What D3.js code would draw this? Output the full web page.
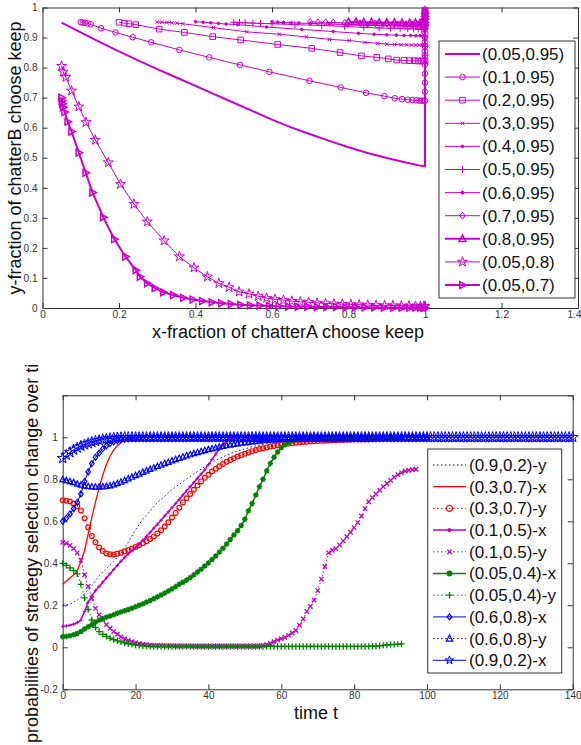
<!DOCTYPE html>
<html>
<head>
<meta charset="utf-8">
<script src="https://cdn.jsdelivr.net/npm/d3@7"></script>
<style>
  body { margin: 0; background: #fff; }
  svg text { font-family: "Liberation Sans", Arial, sans-serif; }
</style>
</head>
<body>
<svg id="fig" width="581" height="745"></svg>
<script>
// ---------- top panel: trajectories in the (x, y) plane ----------
const topXTicks = [0, 0.2, 0.4, 0.6, 0.8, 1, 1.2, 1.4]
const topYTicks = [0, 0.1, 0.2, 0.3, 0.4, 0.5, 0.6, 0.7, 0.8, 0.9, 1]

const traj005_095 = [[.05,.95],[.1,.917],[.15,.885],[.2,.854],[.25,.824],[.3,.795],[.35,.767],[.4,.739],[.45,.711],[.5,.683],[.55,.655],[.6,.627],[.65,.601],[.7,.578],[.75,.556],[.8,.535],[.85,.516],[.9,.499],[.95,.484],[.99,.473],[1,.472],[1,.5],[1,.6],[1,.7],[1,.8],[1,.9],[1,.97],[1,.99]]
const traj01_095 = [[.1,.951],[.105,.95],[.111,.949],[.118,.947],[.126,.944],[.153,.931],[.191,.917],[.236,.901],[.284,.884],[.358,.859],[.436,.834],[.516,.809],[.593,.786],[.698,.756],[.78,.734],[.846,.716],[.894,.705],[.921,.698],[.94,.695],[.955,.693],[.967,.692],[.977,.691],[.985,.69],[.991,.69],[.996,.69],[1,.69],[1,.72],[1,.75],[1,.78],[1,.81],[1,.84],[1,.87],[1,.9],[1,.93],[1,.96],[1,.98],[1,.99]]
const traj02_095 = [[.2,.951],[.214,.948],[.226,.946],[.244,.943],[.305,.928],[.371,.917],[.445,.903],[.518,.892],[.615,.877],[.704,.864],[.778,.85],[.834,.839],[.874,.834],[.904,.829],[.926,.825],[.945,.824],[.96,.823],[.972,.823],[.982,.822],[.99,.822],[.996,.822],[1,.822],[1,.85],[1,.88],[1,.91],[1,.94],[1,.97],[1,.99]]
const traj03_095 = [[.3,.952],[.312,.951],[.325,.95],[.338,.949],[.352,.948],[.367,.946],[.447,.933],[.534,.919],[.619,.911],[.69,.902],[.75,.894],[.802,.89],[.843,.884],[.876,.881],[.9,.878],[.92,.877],[.937,.876],[.952,.876],[.965,.875],[.976,.875],[.985,.875],[.992,.875],[.997,.875],[1,.875],[1,.9],[1,.93],[1,.96],[1,.99]]
const traj04_095 = [[.4,.953],[.42,.951],[.44,.949],[.46,.947],[.48,.945],[.51,.943],[.586,.935],[.678,.927],[.76,.92],[.826,.914],[.867,.911],[.9,.909],[.925,.908],[.945,.907],[.962,.907],[.976,.906],[.987,.906],[.995,.906],[1,.906],[1,.93],[1,.96],[1,.99]]
const traj05_095 = [[.5,.951],[.515,.95],[.53,.949],[.55,.948],[.57,.947],[.6,.946],[.66,.943],[.73,.94],[.79,.937],[.84,.934],[.88,.932],[.91,.931],[.935,.93],[.955,.929],[.97,.929],[.982,.928],[.991,.928],[.997,.928],[1,.928],[1,.95],[1,.97],[1,.99]]
const traj06_095 = [[.6,.952],[.615,.951],[.63,.95],[.65,.949],[.67,.948],[.7,.947],[.75,.945],[.8,.943],[.85,.941],[.89,.94],[.92,.939],[.945,.938],[.963,.938],[.977,.937],[.988,.937],[.995,.937],[1,.937],[1,.96],[1,.98],[1,.99]]
const traj07_095 = [[.7,.952],[.72,.951],[.74,.951],[.76,.95],[.79,.949],[.83,.948],[.87,.947],[.9,.946],[.93,.945],[.95,.945],[.967,.944],[.98,.944],[.99,.944],[.997,.944],[1,.944],[1,.96],[1,.98],[1,.99]]
const traj08_095 = [[.8,.952],[.82,.952],[.84,.951],[.86,.951],[.88,.95],[.9,.95],[.92,.95],[.94,.949],[.96,.949],[.975,.949],[.987,.949],[.995,.949],[1,.949],[1,.96],[1,.97],[1,.98],[1,.99]]
const traj005_08 = [[.05,.805],[.054,.786],[.061,.768],[.076,.723],[.095,.67],[.114,.618],[.138,.559],[.172,.484],[.204,.412],[.239,.346],[.274,.287],[.318,.224],[.358,.171],[.396,.134],[.431,.104],[.461,.082],[.488,.069],[.514,.054],[.54,.047],[.564,.039],[.586,.033],[.608,.029],[.63,.026],[.652,.023],[.674,.021],[.696,.019],[.718,.017],[.74,.015],[.762,.014],[.784,.013],[.806,.012],[.828,.011],[.85,.01],[.872,.009],[.894,.008],[.916,.008],[.938,.007],[.958,.007],[.975,.006],[.988,.006],[.997,.006],[1,.006]]
const traj005_07 = [[.05,.7],[.051,.69],[.052,.68],[.054,.668],[.058,.652],[.066,.62],[.076,.587],[.095,.517],[.113,.45],[.131,.384],[.159,.302],[.188,.229],[.217,.171],[.244,.126],[.255,.104],[.274,.082],[.294,.066],[.316,.052],[.342,.043],[.368,.034],[.393,.028],[.418,.023],[.443,.019],[.468,.016],[.493,.013],[.518,.011],[.543,.009],[.568,.008],[.593,.007],[.618,.006],[.643,.005],[.668,.004],[.693,.004],[.718,.003],[.743,.003],[.768,.003],[.793,.002],[.818,.002],[.843,.002],[.868,.002],[.893,.001],[.918,.001],[.94,.001],[.96,.001],[.976,.001],[.988,.001],[.996,.001],[1,.001]]

const topNames = ["(0.05,0.95)", "(0.1,0.95)", "(0.2,0.95)", "(0.3,0.95)", "(0.4,0.95)", "(0.5,0.95)",
  "(0.6,0.95)", "(0.7,0.95)", "(0.8,0.95)", "(0.05,0.8)", "(0.05,0.7)"]

// ---------- bottom panel: probabilities over time (one value per time step) ----------
const botXTicks = [0, 20, 40, 60, 80, 100, 120, 140]
const botYTicks = [-0.2, 0, 0.2, 0.4, 0.6, 0.8, 1, 1.2]
const botYTickLabels = ["-0.2", "0", "0.2", "0.4", "0.6", "0.8", "1", ""]
const timeStep = 1

// (0.9,0.2)-y has no markers, kept as [t, value]
const y09_02 = [[0,.2],[2,.205],[4,.225],[6,.255],[8,.295],[10,.34],[12,.375],[14,.41],[16,.45],[18,.5],[20,.56],[22,.61],[24,.65],[26,.69],[28,.72],[30,.75],[33,.79],[36,.825],[39,.86],[42,.89],[45,.915],[48,.935],[52,.955],[56,.97],[60,.98],[65,.988],[70,.993],[80,.997],[90,.999],[100,1],[120,1],[140,1]]
const x03_07 = [.3,.315,.33,.345,.365,.41,.46,.54,.62,.69,.76,.82,.87,.91,.94,.96,.975,.985,.99,.994,
  .996,.998,.999,1,1,1,1,1,1,1,1,1,1,1,1,1,1,1,1,1,1]
const y03_07 = [.7,.698,.694,.685,.672,.652,.615,.57,.53,.5,.475,.458,.447,.443,.442,.445,.45,.456,.463,.47,
  .478,.486,.495,.505,.516,.528,.542,.557,.575,.595,.618,.64,.665,.69,.71,.73,.75,.77,.79,.807,
  .822,.837,.85,.862,.873,.883,.892,.9,.908,.915,.922,.928,.934,.939,.944,.948,.952,.956,.959,.962,
  .965,.968,.97,.972,.974,.976,.978,.979,.98,.981,.982,.983,.984,.985,.986,.986,.987,.987,.988,.988,
  .989,.989,.99,.99,.99,.991]
const x01_05 = [.1,.102,.105,.11,.118,.13,.17,.215,.245,.27,.29,.31,.33,.35,.37,.39,.41,.428,.445,.46,
  .475,.49,.51,.528,.548,.567,.586,.605,.625,.645,.665,.685,.705,.725,.745,.765,.785,.805,.825,.845,
  .87,.895,.92,.945,.965,.98,.99,.995,.998,1,1,1,1,1,1,1,1,1,1,1,1]
const y01_05 = [.5,.495,.485,.47,.45,.415,.345,.29,.233,.185,.155,.13,.108,.09,.075,.062,.05,.04,.033,.027,
  .022,.018,.015,.012,.01,.009,.008,.008,.007,.007,.007,.006,.006,.006,.006,.006,.005,.005,.005,.005,
  .005,.005,.005,.005,.005,.005,.005,.005,.005,.005,.005,.005,.005,.005,.005,.008,.012,.018,.027,.034,
  .041,.048,.057,.068,.08,.105,.135,.17,.195,.225,.27,.325,.384,.45,.462,.47,.488,.507,.527,.548,
  .57,.594,.625,.66,.693,.713,.73,.748,.765,.78,.795,.81,.822,.832,.839,.843,.846,.848]
const x005_04 = [.05,.052,.055,.06,.066,.075,.087,.098,.108,.119,.13,.137,.143,.149,.155,.162,.168,.174,.18,.186,
  .193,.2,.207,.215,.223,.231,.24,.249,.258,.268,.278,.289,.3,.31,.32,.332,.345,.358,.372,.387,
  .402,.418,.435,.453,.472,.492,.513,.535,.555,.58,.61,.65,.685,.725,.765,.8,.84,.876,.905,.93,
  .95,.965,.975,.983,.988,.992,.995,.997,.998,.999,1,1,1,1,1,1,1,1,1,1,
  1,1,1,1,1,1,1,1,1,1,1,1,1,1]
const y005_04 = [.4,.39,.378,.365,.35,.3,.235,.18,.13,.095,.075,.062,.052,.044,.037,.031,.026,.021,.017,.014,
  .011,.009,.007,.006,.005,.004,.004,.004,.004,.004,.004,.004,.004,.004,.004,.004,.004,.004,.004,.004,
  .004,.004,.004,.004,.004,.004,.004,.004,.004,.004,.004,.004,.004,.004,.004,.004,.004,.004,.004,.004,
  .004,.004,.004,.004,.004,.004,.004,.004,.004,.004,.004,.004,.004,.004,.004,.004,.004,.004,.004,.004,
  .004,.004,.004,.004,.004,.005,.006,.007,.009,.011,.013,.014,.015,.016]
const x06_08 = [.6,.615,.635,.66,.69,.73,.79,.835,.875,.905,.925,.945,.96,.97,.978,.984,.988,.991,.994,.996,
  .997,.998,.998,.999,.999,.999,1,1,1,1,1,1,1,1,1,1,1,1,1,1,
  1,1,1,1,1,1,1,1,1,1,1,1,1,1,1,1,1,1,1,1,1,1,1,1,1,1,1,1,1,1,
  1,1,1,1,1,1,1,1,1,1,1,1,1,1,1,1,1,1,1,1,1,1,1,1,1,1,1,1,1,1,1]
const y06_08 = [.8,.795,.79,.785,.778,.773,.769,.766,.765,.764,.764,.765,.767,.77,.775,.781,.788,.795,.803,.811,
  .819,.826,.834,.841,.848,.855,.862,.869,.876,.882,.889,.895,.901,.907,.913,.918,.923,.928,.933,.938,
  .942,.946,.95,.954,.958,.961,.964,.967,.97,.973,.975,.977,.979,.981,.983,.985,.986,.988,.989,.99,
  .991,.992,.993,.994,.995,.995,.996,.996,.997,.997,.998,.998,.998,.998,.999,.999,.999,.999,.999,.999,
  1,1,1,1,1,1,1,1,1,1,1,1,1,1,1,1,1,1,1,1,1]
const x09_02 = [.9,.915,.928,.94,.95,.958,.965,.971,.977,.982,.986,.99,.993,.995,.997,.998,.999,1,1,1,
  1,1,1,1,1,1,1,1,1,1,1,1,1,1,1,1,1,1,1,1,1,1,1,1,1,1,1,1,1,1,
  1,1,1,1,1,1,1,1,1,1,1,1,1,1,1,1,1,1,1,1,1,1,1,1,1,1,1,1,1,1,
  1,1,1,1,1,1,1,1,1,1,1,1,1,1,1,1,1,1,1,1,1,1,1,1,1,1,1,1,1,1,
  1,1,1,1,1,1,1,1,1,1,1,1,1,1,1,1,1,1,1,1,1,1,1,1,1,1,1,1,1,1,1]

const botNames = ["(0.9,0.2)-y", "(0.3,0.7)-x", "(0.3,0.7)-y", "(0.1,0.5)-x", "(0.1,0.5)-y",
  "(0.05,0.4)-x", "(0.05,0.4)-y", "(0.6,0.8)-x", "(0.6,0.8)-y", "(0.9,0.2)-x"]

const toTime = vals => vals.map((v, i) => [i * timeStep, v])

// ---------- drawing ----------
const svg = d3.select("#fig")

function markerPath(type, r) {
  if (type === "circle") return d3.symbol(d3.symbolCircle, Math.PI * r * r)()
  if (type === "square") return d3.symbol(d3.symbolSquare, 4 * r * r)()
  if (type === "diamond") return `M0,${-r * 1.3}L${r},0L0,${r * 1.3}L${-r},0Z`
  if (type === "triangle") return `M0,${-r * 1.1}L${r},${r * 0.8}L${-r},${r * 0.8}Z`
  if (type === "triright") return `M${-r * 0.8},${-r}L${r * 1.1},0L${-r * 0.8},${r}Z`
  if (type === "star") return d3.symbol(d3.symbolStar, r * r * 3.2)()
  if (type === "plus") return `M${-r},0H${r}M0,${-r}V${r}`
  if (type === "cross") return `M${-r},${-r}L${r},${r}M${-r},${r}L${r},${-r}`
  if (type === "asterisk") {
    const k = r * 0.7
    return `M${-r},0H${r}M0,${-r}V${r}M${-k},${-k}L${k},${k}M${-k},${k}L${k},${-k}`
  }
  if (type === "dot") return d3.symbol(d3.symbolCircle, Math.PI * r * r)()
  return null
}

function drawAxes(g, x, y, xTicks, yTicks, yFmt) {
  const [x0, x1] = x.range(), [y0, y1] = y.range()
  const axes = [
    d3.axisBottom(x).tickValues(xTicks).tickFormat(d3.format("~g")).tickSizeInner(-5).tickSizeOuter(0).tickPadding(3),
    d3.axisTop(x).tickValues(xTicks).tickFormat("").tickSizeInner(-5).tickSizeOuter(0),
    d3.axisLeft(y).tickValues(yTicks).tickFormat(yFmt).tickSizeInner(-5).tickSizeOuter(0).tickPadding(5),
    d3.axisRight(y).tickValues(yTicks).tickFormat("").tickSizeInner(-5).tickSizeOuter(0)
  ]
  const pos = [`translate(0,${y0})`, `translate(0,${y1})`, `translate(${x0},0)`, `translate(${x1},0)`]
  const out = []
  axes.forEach((a, i) => {
    const ag = g.append("g").attr("transform", pos[i]).call(a)
    ag.selectAll("path, line").attr("stroke", "#333")
    ag.selectAll("text").attr("fill", "#333").style("font-size", "10px")
    out.push(ag)
  })
  return out
}

function drawSeries(g, x, y, s) {
  const line = d3.line().x(d => x(d[0])).y(d => y(d[1]))
  g.append("path").datum(s.pts)
    .attr("d", line)
    .attr("fill", "none")
    .attr("stroke", s.color)
    .attr("stroke-width", s.width)
    .attr("stroke-dasharray", s.dash || null)
  if (s.marker) {
    const p = markerPath(s.marker, s.r)
    g.append("g").selectAll("path").data(s.pts).enter().append("path")
      .attr("transform", d => `translate(${x(d[0])},${y(d[1])})`)
      .attr("d", p)
      .attr("fill", s.marker === "dot" ? s.color : "none")
      .attr("stroke", s.color)
      .attr("stroke-width", s.mw || 1)
  }
}

function drawLegend(g, series, box, rowY, rowH, lineX, textX, fs) {
  g.append("rect").attr("x", box[0]).attr("y", box[1]).attr("width", box[2]).attr("height", box[3])
    .attr("fill", "#fff").attr("stroke", "#333").attr("stroke-width", 1)
  series.forEach((s, i) => {
    const cy = rowY + i * rowH
    const mk = s.legendMarker !== undefined ? s.legendMarker : s.marker
    const mr = s.legendR || s.r
    g.append("line").attr("x1", lineX[0]).attr("x2", lineX[1]).attr("y1", cy).attr("y2", cy)
      .attr("stroke", s.color).attr("stroke-width", s.width).attr("stroke-dasharray", s.dash || null)
    if (mk) {
      g.append("path").attr("transform", `translate(${(lineX[0] + lineX[1]) / 2},${cy})`)
        .attr("d", markerPath(mk, mr))
        .attr("fill", mk === "dot" ? s.color : "none")
        .attr("stroke", s.color).attr("stroke-width", s.mw || 1)
    }
    g.append("text").attr("x", textX).attr("y", cy).attr("dy", "0.35em")
      .style("font-size", fs + "px").attr("fill", "#111").text(s.name)
  })
}

// top panel
const magenta = "#cc00cc"
const topX = d3.scaleLinear().domain([0, 1.4]).range([42.5, 578])
const topY = d3.scaleLinear().domain([0, 1]).range([308, 7.5])
const topData = [traj005_095, traj01_095, traj02_095, traj03_095, traj04_095, traj05_095,
  traj06_095, traj07_095, traj08_095, traj005_08, traj005_07]
const topStyle = [
  { marker: null, width: 2 },
  { marker: "circle", r: 2.8, width: 1 },
  { marker: "square", r: 2.8, width: 1 },
  { marker: "cross", r: 1.8, width: 1 },
  { marker: "dot", r: 1.3, width: 1 },
  { marker: "plus", r: 3.5, width: 1 },
  { marker: "asterisk", r: 2.2, width: 1 },
  { marker: "diamond", r: 2.6, width: 1 },
  { marker: "triangle", r: 3.4, width: 2, mw: 1.5 },
  { marker: "star", r: 3.1, width: 1 },
  { marker: "triright", r: 3.4, width: 2, mw: 1.5 }
]
const topSeries = topData.map((pts, i) => Object.assign({ name: topNames[i], pts, color: magenta }, topStyle[i]))

const gTop = svg.append("g")
const topAxes = drawAxes(gTop, topX, topY, topXTicks, topYTicks, d3.format("~g"))
// last x tick label sits on the window edge
topAxes[0].selectAll(".tick text").filter(d => d === 1.4).attr("dx", "-4")
topSeries.forEach(s => drawSeries(gTop, topX, topY, s))
drawLegend(gTop, topSeries, [439, 41, 136, 257], 54, 23.1, [445, 480], 482, 17)

gTop.append("text").attr("x", 288).attr("y", 338).attr("text-anchor", "middle")
  .style("font-size", "18px").attr("fill", "#111").text("x-fraction of chatterA choose keep")
gTop.append("text").attr("transform", "translate(21,158) rotate(-90)").attr("text-anchor", "middle")
  .style("font-size", "18px").attr("fill", "#111").text("y-fraction of chatterB choose keep")

// bottom panel
const blue = "#0000ff", red = "#ff0000", purple = "#bf00bf", green = "#008000"
const botX = d3.scaleLinear().domain([0, 140]).range([62.7, 572.7])
const botY = d3.scaleLinear().domain([-0.2, 1.2]).range([689.3, 395.3])
const dotted = "1.5,2.5"
const botSeries = [
  { pts: y09_02, color: blue, width: 1, dash: dotted, marker: null },
  { pts: toTime(x03_07), color: red, width: 1.3, marker: null },
  { pts: toTime(y03_07), color: red, width: 1, dash: dotted, marker: "circle", r: 2.4, mw: 1.2, legendR: 3 },
  { pts: toTime(x01_05), color: purple, width: 1.5, marker: "plus", r: 1.8, legendMarker: "dot", legendR: 1.6 },
  { pts: toTime(y01_05), color: purple, width: 1, dash: dotted, marker: "cross", r: 2.2, mw: 1.3 },
  { pts: toTime(x005_04), color: green, width: 1.5, marker: "asterisk", r: 2.8, mw: 1.4, legendMarker: "dot", legendR: 2.2 },
  { pts: toTime(y005_04), color: green, width: 1, dash: dotted, marker: "plus", r: 3.2, mw: 1.3 },
  { pts: toTime(x06_08), color: blue, width: 1, marker: "diamond", r: 2.3, mw: 1.2 },
  { pts: toTime(y06_08), color: blue, width: 1, dash: dotted, marker: "triangle", r: 2.8, mw: 1.2, legendR: 3.2 },
  { pts: toTime(x09_02), color: blue, width: 1, marker: "star", r: 3.4, mw: 1, legendR: 2.6 }
].map((s, i) => Object.assign({ name: botNames[i] }, s))

const gBot = svg.append("g")
drawAxes(gBot, botX, botY, botXTicks, botYTicks, (d, i) => botYTickLabels[i])
botSeries.forEach(s => drawSeries(gBot, botX, botY, s))
drawLegend(gBot, botSeries, [427.7, 449, 134, 224], 465, 21.7, [433, 466], 469, 17)

gBot.append("text").attr("x", 316).attr("y", 719).attr("text-anchor", "middle")
  .style("font-size", "18px").attr("fill", "#111").text("time t")
gBot.append("text").attr("transform", "translate(38,743) rotate(-90)").attr("text-anchor", "start")
  .style("font-size", "18px").attr("fill", "#111").text("probabilities of strategy selection change over ti")
</script>
</body>
</html>
